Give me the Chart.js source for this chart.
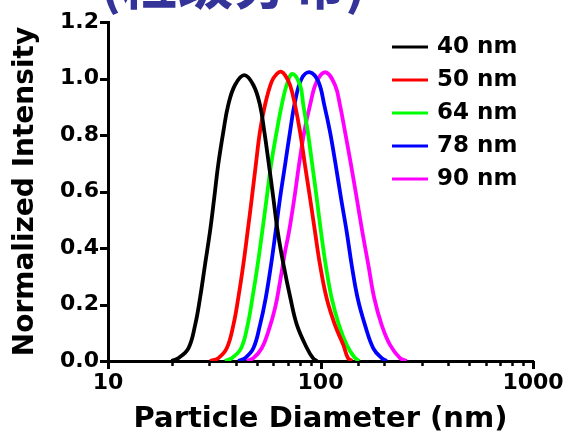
<!DOCTYPE html>
<html>
<head>
<meta charset="utf-8">
<script src="https://cdn.jsdelivr.net/npm/chart.js@4.4.1/dist/chart.umd.min.js"></script>
<style>
  html, body { margin: 0; padding: 0; background: #fff; }
  canvas { display: block; }
</style>
</head>
<body>
<canvas id="chart" width="566" height="437"></canvas>
<script>
const titleText = '(粒级分布)';
const seriesLabels = ['40 nm', '50 nm', '64 nm', '78 nm', '90 nm'];
const seriesColors = ['#000000', '#ff0000', '#00ff00', '#0000ff', '#ff00ff'];

// particle diameter (nm) / normalized intensity
const d40 = [19.9, 21.4, 23.9, 25.7, 27.1, 28.6, 30.2, 31.6, 33.0, 34.9, 36.8, 39.6, 43.8, 48.3, 51.9, 54.4, 57.2, 60.0, 62.9, 67.0, 72.2, 77.5, 86.4, 92.2, 96.3];
const i40 = [0, 0.01, 0.045, 0.127, 0.222, 0.34, 0.458, 0.576, 0.694, 0.812, 0.906, 0.977, 1.012, 0.977, 0.906, 0.812, 0.694, 0.576, 0.458, 0.34, 0.222, 0.127, 0.045, 0.01, 0];

const d50 = [30.2, 33.0, 36.2, 38.9, 41.0, 43.3, 45.4, 47.5, 49.6, 51.9, 54.8, 58.9, 62.2, 65.2, 68.1, 71.9, 75.9, 80.1, 84.5, 89.3, 94.2, 99.5, 106.9, 117.0, 128.0, 134.7, 140.7];
const i50 = [0, 0.01, 0.045, 0.127, 0.222, 0.34, 0.458, 0.576, 0.694, 0.812, 0.906, 0.989, 1.016, 1.024, 1.012, 0.977, 0.906, 0.812, 0.694, 0.576, 0.458, 0.34, 0.222, 0.127, 0.057, 0.01, 0];

const d64 = [35.5, 38.2, 42.3, 45.4, 47.8, 50.6, 53.2, 55.8, 58.5, 62.2, 65.7, 69.3, 73.7, 80.1, 83.0, 87.1, 91.5, 96.0, 100.5, 105.8, 112.9, 122.2, 132.8, 143.8, 151.8];
const i64 = [0, 0.01, 0.045, 0.127, 0.222, 0.34, 0.458, 0.576, 0.694, 0.812, 0.906, 0.977, 1.016, 0.977, 0.906, 0.812, 0.694, 0.576, 0.458, 0.34, 0.222, 0.127, 0.057, 0.015, 0];

const d78 = [41.0, 44.1, 48.3, 51.9, 55.2, 58.5, 61.5, 64.5, 68.1, 71.9, 75.9, 81.6, 89.3, 97.7, 104.2, 110.8, 117.9, 124.9, 132.8, 140.2, 149.6, 162.0, 177.2, 194.1, 204.9];
const i78 = [0, 0.01, 0.045, 0.127, 0.222, 0.34, 0.458, 0.576, 0.694, 0.812, 0.918, 1.0, 1.022, 0.989, 0.906, 0.812, 0.694, 0.576, 0.458, 0.34, 0.222, 0.127, 0.045, 0.01, 0];

const d90 = [45.0, 48.3, 52.9, 56.8, 61.1, 64.5, 68.1, 71.1, 75.3, 79.2, 83.9, 89.3, 96.0, 105.8, 117.0, 123.5, 130.4, 139.2, 148.1, 157.3, 167.9, 179.1, 194.1, 212.4, 236.7, 254.5];
const i90 = [0, 0.01, 0.045, 0.104, 0.187, 0.281, 0.387, 0.458, 0.576, 0.694, 0.812, 0.906, 0.989, 1.022, 0.977, 0.906, 0.812, 0.694, 0.576, 0.458, 0.34, 0.222, 0.127, 0.057, 0.01, 0];

const xTickLabels = [10, 100, 1000];
const yTickStep = 0.2;

const FONT = "'DejaVu Sans', 'Liberation Sans', Arial, sans-serif";
const series = [[d40, i40], [d50, i50], [d64, i64], [d78, i78], [d90, i90]];

const datasets = series.map(([d, v], k) => ({
  label: seriesLabels[k],
  data: d.map((x, j) => ({ x, y: v[j] })),
  borderColor: seriesColors[k],
  backgroundColor: seriesColors[k],
  borderWidth: 3.8,
  pointRadius: 0,
  fill: false,
  tension: 0.4
}));

const isDecade = v => { const e = Math.log10(v); return Math.abs(e - Math.round(e)) < 1e-9; };

// tick marks drawn outside the axes, long on decades, short in between
const tickMarks = {
  id: 'tickMarks',
  afterDraw(chart) {
    const { ctx } = chart;
    const xs = chart.scales.x, ys = chart.scales.y;
    ctx.save();
    ctx.strokeStyle = '#000';
    ctx.lineWidth = 3;
    ys.ticks.forEach(t => {
      const y = Math.round(ys.getPixelForValue(t.value)) + 0.5;
      ctx.beginPath(); ctx.moveTo(xs.left - 8, y); ctx.lineTo(xs.left, y); ctx.stroke();
    });
    xs.ticks.forEach(t => {
      const x = Math.round(xs.getPixelForValue(t.value)) + 0.5;
      const major = isDecade(t.value);
      ctx.lineWidth = major ? 3 : 2.5;
      ctx.beginPath(); ctx.moveTo(x, ys.bottom); ctx.lineTo(x, ys.bottom + (major ? 8 : 5)); ctx.stroke();
    });
    ctx.restore();
  }
};

const legendBox = {
  id: 'legendBox',
  afterDatasetsDraw(chart) {
    const { ctx } = chart;
    ctx.save();
    ctx.font = `bold 23px ${FONT}`;
    ctx.textBaseline = 'middle';
    ctx.textAlign = 'left';
    chart.data.datasets.forEach((ds, k) => {
      const y = 47 + k * 33;
      ctx.strokeStyle = ds.borderColor;
      ctx.lineWidth = 3;
      ctx.beginPath(); ctx.moveTo(392, y); ctx.lineTo(428, y); ctx.stroke();
      ctx.fillStyle = '#000';
      ctx.fillText(ds.label, 437, y);
    });
    ctx.restore();
  }
};

const cutTitle = {
  id: 'cutTitle',
  afterDraw(chart) {
    const { ctx } = chart;
    ctx.save();
    ctx.font = "bold 56px 'Noto Sans CJK SC', sans-serif";
    ctx.fillStyle = '#333399';
    ctx.textBaseline = 'alphabetic';
    ctx.textAlign = 'left';
    ctx.fillText(titleText, 100, 4);
    ctx.restore();
  }
};

new Chart(document.getElementById('chart'), {
  type: 'line',
  data: { datasets },
  options: {
    responsive: false,
    animation: false,
    devicePixelRatio: 1,
    layout: { padding: { top: 22, right: 33, left: 0, bottom: 0 } },
    plugins: { legend: { display: false }, tooltip: { enabled: false }, title: { display: false } },
    scales: {
      x: {
        type: 'logarithmic',
        min: 10,
        max: 1000,
        border: { color: '#000', width: 3 },
        grid: { drawOnChartArea: false, color: 'rgba(0,0,0,0)', tickLength: 8 },
        ticks: {
          autoSkip: false,
          maxRotation: 0,
          padding: 1,
          color: '#000',
          font: { family: FONT, weight: 'bold', size: 22 },
          callback: v => (xTickLabels.includes(Math.round(v)) && isDecade(v) ? String(Math.round(v)) : '')
        },
        title: {
          display: true,
          text: 'Particle Diameter (nm)',
          color: '#000',
          font: { family: FONT, weight: 'bold', size: 29 },
          padding: { top: 0, bottom: 0 }
        },
        afterFit(s) { s.height = 76; }
      },
      y: {
        min: 0,
        max: 1.2,
        border: { color: '#000', width: 3 },
        grid: { drawOnChartArea: false, color: 'rgba(0,0,0,0)', tickLength: 8 },
        ticks: {
          stepSize: yTickStep,
          padding: 1,
          color: '#000',
          font: { family: FONT, weight: 'bold', size: 22 },
          callback: v => v.toFixed(1)
        },
        title: {
          display: true,
          text: 'Normalized Intensity',
          color: '#000',
          font: { family: FONT, weight: 'bold', size: 28 },
          padding: { top: 9, bottom: 0 }
        },
        afterFit(s) { s.width = 108; }
      }
    }
  },
  plugins: [tickMarks, legendBox, cutTitle]
});
</script>
</body>
</html>
